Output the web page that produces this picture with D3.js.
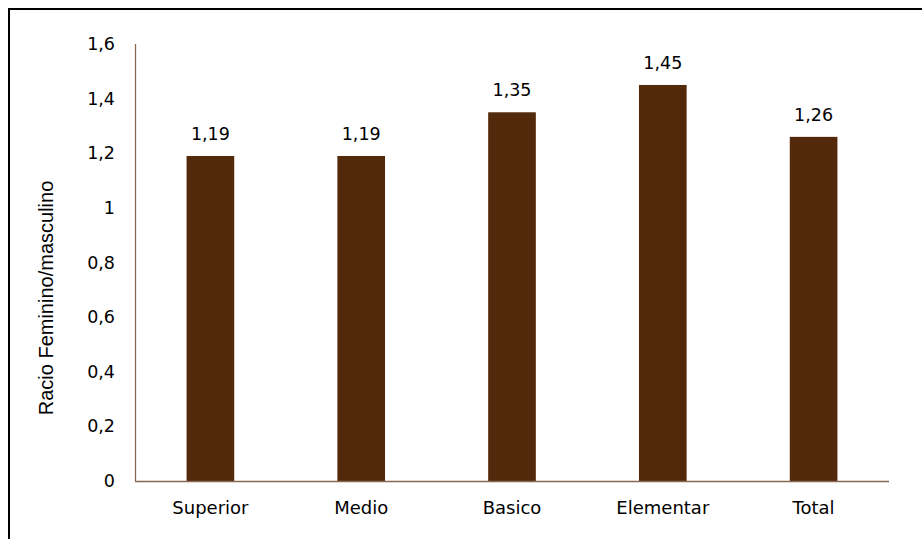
<!DOCTYPE html>
<html>
<head>
<meta charset="utf-8">
<script src="https://cdn.jsdelivr.net/npm/d3@7"></script>
<style>
  html, body { margin: 0; padding: 0; background: #fff; }
  svg { display: block; }
</style>
</head>
<body>
<svg id="chart" width="922" height="539"></svg>
<script>
const categories = ["Superior", "Medio", "Basico", "Elementar", "Total"];
const values = [1.19, 1.19, 1.35, 1.45, 1.26];
const valueLabels = ["1,19", "1,19", "1,35", "1,45", "1,26"];
const yTicks = [0, 0.2, 0.4, 0.6, 0.8, 1, 1.2, 1.4, 1.6];
const yTickLabels = ["0", "0,2", "0,4", "0,6", "0,8", "1", "1,2", "1,4", "1,6"];
const yTitle = "Racio Feminino/masculino";

(function () {
const svg = d3.select("#chart");
const W = 922, H = 539;
const mLeft = 135, mRight = 889, mTop = 44, mBottom = 481;
const mainFont = "'DejaVu Sans', Verdana, sans-serif";
const axisColor = "#876752";
const barColor = "#53290c";

// frame (top and left edges)
svg.append("path")
  .attr("d", `M9,${H} L9,9 L${W},9`)
  .attr("fill", "none").attr("stroke", "#000").attr("stroke-width", 2);

const x = d3.scaleBand().domain(categories).range([mLeft, mRight])
  .paddingInner(0.684).paddingOuter(0.342);
const y = d3.scaleLinear().domain([0, 1.6]).range([mBottom, mTop]);

// bars
svg.append("g").selectAll("rect").data(values).join("rect")
  .attr("x", (d, i) => x(categories[i]))
  .attr("y", d => y(d))
  .attr("width", x.bandwidth())
  .attr("height", d => y(0) - y(d))
  .attr("fill", barColor);

// value labels
svg.append("g").selectAll("text").data(values).join("text")
  .attr("x", (d, i) => x(categories[i]) + x.bandwidth() / 2)
  .attr("y", d => y(d) - 16)
  .attr("text-anchor", "middle")
  .attr("font-family", mainFont).attr("font-size", 17.5).attr("fill", "#000")
  .text((d, i) => valueLabels[i]);

// y axis
const yAxis = d3.axisLeft(y).tickValues(yTicks).tickSize(0).tickPadding(20)
  .tickFormat((d, i) => yTickLabels[i]);
const gy = svg.append("g").attr("transform", `translate(${mLeft},0)`).call(yAxis);
gy.select(".domain").attr("stroke", axisColor).attr("stroke-width", 1.3)
  .attr("d", `M0.5,${mTop}V${mBottom}`);
gy.selectAll("text").attr("font-family", mainFont).attr("font-size", 17.5).attr("fill", "#000");

// x axis
const xAxis = d3.axisBottom(x).tickSize(0).tickPadding(20);
const gx = svg.append("g").attr("transform", `translate(0,${mBottom})`).call(xAxis);
gx.select(".domain").attr("stroke", axisColor).attr("stroke-width", 1.3)
  .attr("d", `M${mLeft},0.5H${mRight}`);
gx.selectAll("text").attr("font-family", mainFont).attr("font-size", 18).attr("fill", "#000");

// y title
svg.append("text")
  .attr("transform", `translate(53,298) rotate(-90)`)
  .attr("text-anchor", "middle")
  .attr("font-family", "'Liberation Sans', Arial, sans-serif")
  .attr("font-size", 20).attr("fill", "#000")
  .text(yTitle);
})();
</script>
</body>
</html>
